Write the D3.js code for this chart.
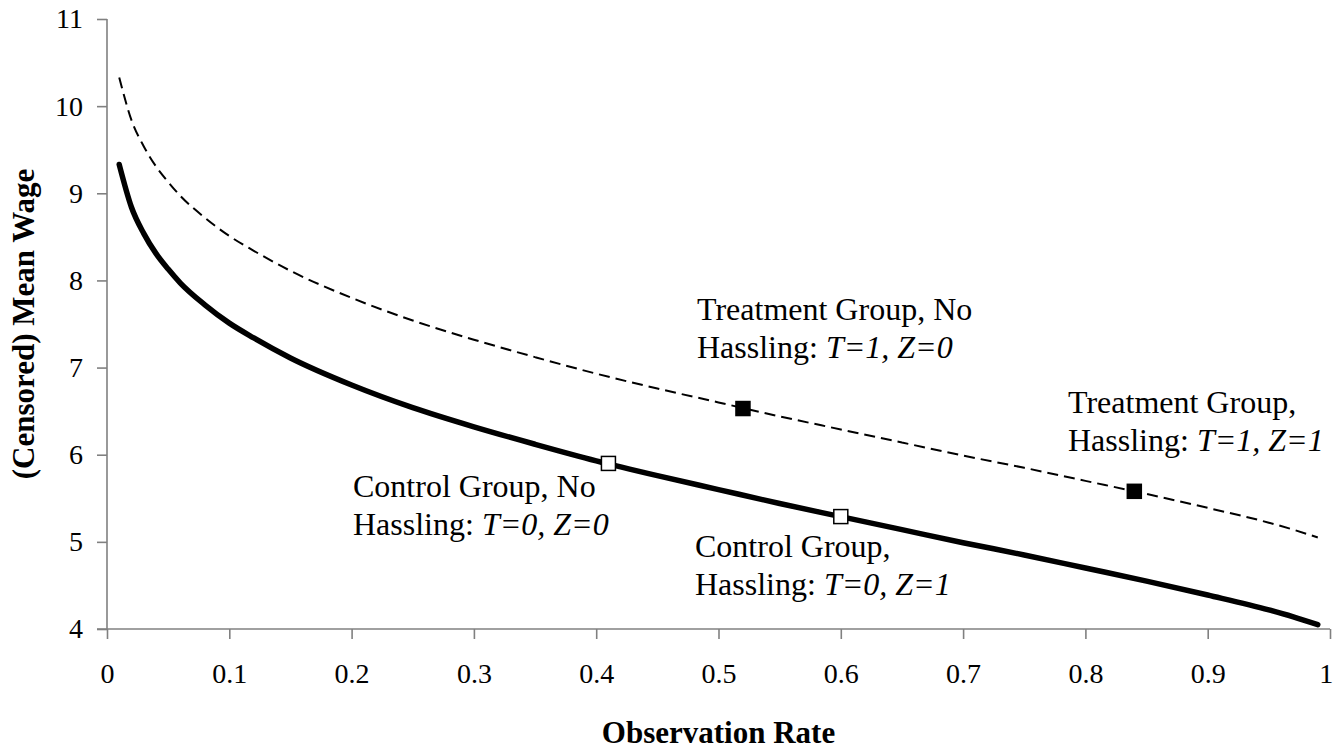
<!doctype html>
<html lang="en">
  <head>
    <meta charset="utf-8" />
    <title>Censored Mean Wage</title>
    <style>
     body {
       margin: 0;
       background: #fff;
     }
     svg text {
       font-family: "Liberation Serif", "DejaVu Serif", serif;
       fill: #000;
     }
    </style>
  </head>
  <body>
    <div id="chart"></div>

    <script src="https://cdn.jsdelivr.net/npm/d3@7"></script>
    <script>
    // observation rate (x) and the two curves
    var rates   = [0.01, 0.02, 0.03, 0.04, 0.05, 0.06, 0.08, 0.10, 0.12, 0.15, 0.20, 0.25, 0.30, 0.35, 0.40, 0.45, 0.50, 0.55, 0.60, 0.65, 0.70, 0.75, 0.80, 0.85, 0.90, 0.95, 0.97, 0.99];
    var control = [9.33, 8.84, 8.54, 8.31, 8.13, 7.97, 7.72, 7.51, 7.34, 7.11, 6.80, 6.54, 6.32, 6.12, 5.93, 5.76, 5.60, 5.44, 5.29, 5.14, 4.99, 4.85, 4.70, 4.55, 4.39, 4.22, 4.14, 4.05];
    var treated = [10.33, 9.84, 9.54, 9.31, 9.13, 8.97, 8.72, 8.51, 8.34, 8.11, 7.80, 7.54, 7.32, 7.12, 6.93, 6.76, 6.60, 6.44, 6.29, 6.14, 5.99, 5.85, 5.70, 5.55, 5.39, 5.22, 5.14, 5.05];

    // marked groups
    var markRates  = [0.41, 0.60, 0.52, 0.84];
    var markWages  = [5.90, 5.29, 6.53, 5.58];
    var markFilled = [false, false, true, true];
    var markLine1  = ["Control Group, No", "Control Group,", "Treatment Group, No", "Treatment Group,"];
    var markPlain  = ["Hassling: ", "Hassling: ", "Hassling: ", "Hassling: "];
    var markItal   = ["T=0, Z=0", "T=0, Z=1", "T=1, Z=0", "T=1, Z=1"];

    var xTicks = [0, 0.1, 0.2, 0.3, 0.4, 0.5, 0.6, 0.7, 0.8, 0.9, 1];
    var yTicks = [4, 5, 6, 7, 8, 9, 10, 11];

    var W = 1335, H = 751;
    var mLeft = 107, mRight = 1330, mTop = 19, mBottom = 629;

    var svg = d3.select("#chart").append("svg")
        .attr("width", W)
        .attr("height", H);

    var x = d3.scaleLinear().domain([0, 1]).range([mLeft, mRight]);
    var y = d3.scaleLinear().domain([4, 11]).range([mBottom, mTop]);

    // axes
    var xAxis = svg.append("g")
        .attr("transform", "translate(0," + mBottom + ")")
        .call(d3.axisBottom(x).tickValues(xTicks).tickSize(10).tickPadding(24)
              .tickFormat(function(d) { return String(+d.toFixed(1)); }));
    var yAxis = svg.append("g")
        .attr("transform", "translate(" + mLeft + ",0)")
        .call(d3.axisLeft(y).tickValues(yTicks).tickSize(10).tickPadding(14)
              .tickFormat(d3.format("d")));

    [xAxis, yAxis].forEach(function(a) {
      a.selectAll("path, line").attr("stroke", "#808080").attr("stroke-width", 1.6);
      a.selectAll("text")
        .attr("font-size", 28)
        .attr("fill", "#000")
        .style("font-family", '"Liberation Serif", serif');
    });
    xAxis.select(".domain").attr("d", "M" + (mLeft - 10) + ",0H" + mRight);
    yAxis.select(".domain").attr("d", "M0," + mTop + "V" + mBottom);
    xAxis.selectAll(".tick").filter(function(d) { return d === 1; })
        .select("text").attr("text-anchor", "end").attr("dx", "0.1em");

    // curves
    var line = d3.line()
        .x(function(d) { return x(d[0]); })
        .y(function(d) { return y(d[1]); })
        .curve(d3.curveMonotoneX);

    svg.append("path")
        .datum(d3.zip(rates, treated))
        .attr("fill", "none")
        .attr("stroke", "#000")
        .attr("stroke-width", 2)
        .attr("stroke-dasharray", "11,6")
        .attr("d", line);

    svg.append("path")
        .datum(d3.zip(rates, control))
        .attr("fill", "none")
        .attr("stroke", "#000")
        .attr("stroke-width", 5.5)
        .attr("stroke-linecap", "round")
        .attr("d", line);

    // markers
    var marks = markRates.map(function(r, i) {
      return { r: r, w: markWages[i], filled: markFilled[i] };
    });
    svg.selectAll("rect.mark")
      .data(marks)
      .enter().append("rect")
        .attr("class", "mark")
        .attr("x", function(d) { return x(d.r) - 7; })
        .attr("y", function(d) { return y(d.w) - 7; })
        .attr("width", 14)
        .attr("height", 14)
        .attr("fill", function(d) { return d.filled ? "#000" : "#fff"; })
        .attr("stroke", "#000")
        .attr("stroke-width", 1.5);

    // annotations
    var labelX = [353, 695, 697, 1068];
    var labelY = [497, 557, 320, 413];
    var lineGap = 38;

    markLine1.forEach(function(t, i) {
      var g = svg.append("g")
          .attr("font-size", 32);
      g.append("text")
          .attr("x", labelX[i])
          .attr("y", labelY[i])
          .text(t);
      var t2 = g.append("text")
          .attr("x", labelX[i])
          .attr("y", labelY[i] + lineGap);
      t2.append("tspan").text(markPlain[i]);
      t2.append("tspan").attr("font-style", "italic").text(markItal[i]);
    });

    // axis titles
    svg.append("text")
        .attr("x", (mLeft + mRight) / 2)
        .attr("y", 743)
        .attr("text-anchor", "middle")
        .attr("font-size", 31)
        .attr("font-weight", "bold")
        .text("Observation Rate");

    svg.append("text")
        .attr("transform", "translate(34," + ((mTop + mBottom) / 2) + ") rotate(-90)")
        .attr("text-anchor", "middle")
        .attr("font-size", 31)
        .attr("font-weight", "bold")
        .text("(Censored) Mean Wage");
    </script>
  </body>
</html>
